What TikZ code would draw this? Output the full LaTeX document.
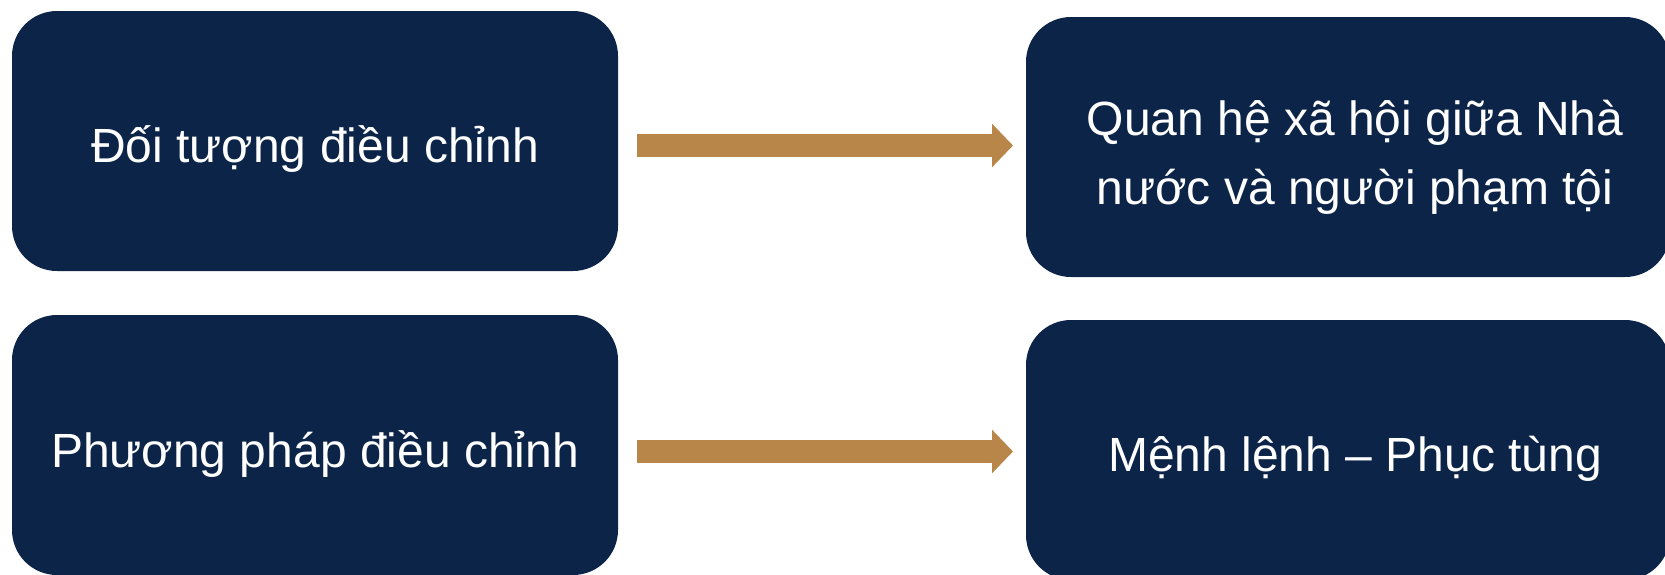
\documentclass[tikz,border=0pt]{standalone}
\usepackage{fontspec}
\setmainfont{Liberation Sans}
\usetikzlibrary{arrows.meta,calc}
\definecolor{navy}{RGB}{11,36,71}
\definecolor{bronze}{RGB}{184,134,72}
\tikzset{
  box/.style={rectangle, rounded corners=45pt, fill=navy, inner sep=0pt,
    minimum width=606pt, minimum height=260pt},
  txt/.style={text=white, inner sep=0pt, align=center, anchor=base,
    font=\fontsize{48}{69}\selectfont},
  bigarrow/.style={draw=bronze, line width=22.4pt,
    -{Triangle[length=21pt,width=42.4pt,fill=bronze,color=bronze]}}
}
\begin{document}
\begin{tikzpicture}[x=1pt,y=-1pt]
\useasboundingbox (0,0) rectangle (1665,574);
\clip (0,0) rectangle (1665,574);
\node[box] (b1) at (315,141) {};
\node[box, minimum width=644pt] (b2) at (1348,147) {};
\node[box] (b3) at (315,445) {};
\node[box, minimum width=644pt] (b4) at (1348,450) {};
\node[txt] (t1) at ($(b1.center)+(0,21)$) {Đối tượng điều chỉnh};
\node[txt] (t2) at ($(b2.center)+(7,57)$) {Quan hệ xã hội giữa Nhà\\nước và người phạm tội};
\node[txt] (t3) at ($(b3.center)+(0,22)$) {Phương pháp điều chỉnh};
\node[txt] (t4) at ($(b4.center)+(7,21)$) {Mệnh lệnh – Phục tùng};
\coordinate (a1s) at (637,145.5);
\coordinate (a1e) at (1013,145.5);
\coordinate (a2s) at (637,451.5);
\coordinate (a2e) at (1013,451.5);
\draw[bigarrow] (a1s) -- (a1e);
\draw[bigarrow] (a2s) -- (a2e);
\end{tikzpicture}
\end{document}
